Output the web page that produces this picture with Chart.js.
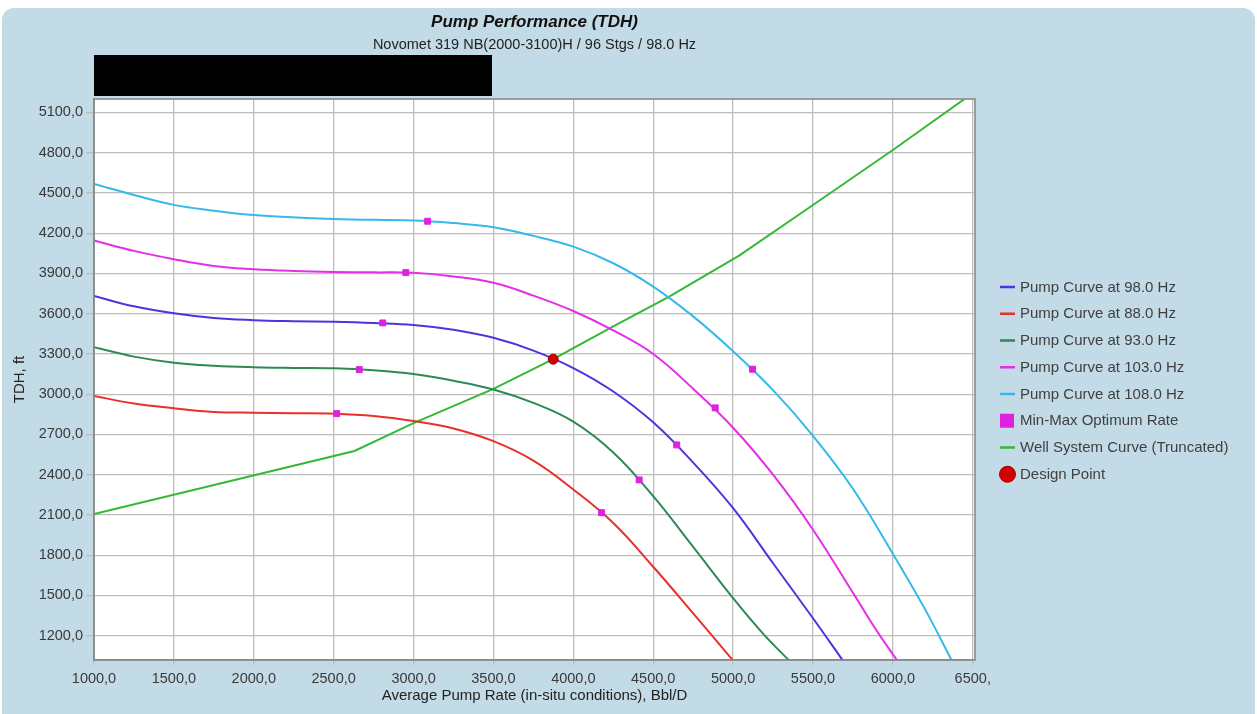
<!DOCTYPE html>
<html>
<head>
<meta charset="utf-8">
<script src="https://cdn.jsdelivr.net/npm/chart.js@4.4.1/dist/chart.umd.min.js"></script>
<style>
  html, body { margin: 0; padding: 0; background: #ffffff; }
  #wrap { width: 1257px; height: 714px; position: relative; }
</style>
</head>
<body>
<div id="wrap"><canvas id="chart"></canvas></div>
<script>
const FONT = '"Liberation Sans", Arial, Helvetica, sans-serif';

// Pump curves: rate (Bbl/D) and head (ft) at each frequency
const rate98 = [1000, 1250, 1500, 1750, 2000, 2250, 2500, 2750, 3000, 3250, 3500, 3750, 4000, 4250, 4500, 4750, 5000, 5250, 5500, 5690];
const tdh98  = [3732, 3655, 3603, 3568, 3552, 3544, 3539, 3530, 3516, 3480, 3420, 3325, 3195, 3020, 2790, 2490, 2150, 1740, 1330, 1010];

const rate88 = [1000, 1250, 1500, 1750, 2000, 2250, 2500, 2750, 3000, 3250, 3500, 3750, 4000, 4250, 4500, 4750, 5000];
const tdh88  = [2987, 2930, 2895, 2868, 2862, 2858, 2855, 2838, 2800, 2745, 2650, 2505, 2290, 2040, 1714, 1367, 1015];

const rate93 = [1000, 1250, 1500, 1750, 2000, 2250, 2500, 2750, 3000, 3250, 3500, 3750, 4000, 4250, 4500, 4750, 5000, 5190, 5355];
const tdh93  = [3350, 3280, 3235, 3212, 3201, 3196, 3193, 3178, 3150, 3100, 3035, 2935, 2795, 2565, 2240, 1862, 1480, 1212, 1010];

const rate103 = [1000, 1250, 1500, 1750, 2000, 2250, 2500, 2750, 3000, 3250, 3500, 3750, 4000, 4250, 4500, 4750, 5000, 5250, 5500, 5750, 5900, 6030];
const tdh103  = [4145, 4068, 4006, 3955, 3931, 3918, 3911, 3908, 3905, 3878, 3830, 3735, 3620, 3475, 3300, 3040, 2750, 2400, 1990, 1520, 1235, 1010];

const rate108 = [1000, 1250, 1500, 1750, 2000, 2500, 3000, 3250, 3500, 3750, 4000, 4250, 4500, 4750, 5000, 5250, 5500, 5750, 6000, 6200, 6375];
const tdh108  = [4567, 4485, 4411, 4368, 4336, 4306, 4294, 4275, 4245, 4180, 4100, 3976, 3802, 3580, 3320, 3030, 2690, 2295, 1810, 1400, 1000];

// Well system curve (truncated at the top of the plot)
const rateWell = [1000, 2630, 3000, 3500, 3874, 4250, 4600, 5040, 5500, 6000, 6460];
const tdhWell  = [2107, 2577, 2785, 3040, 3261, 3505, 3727, 4035, 4410, 4820, 5210];

// Min-max optimum rate markers on each pump curve
const rateOpt = [3088, 5122, 2952, 4888, 2807, 4647, 2660, 4412, 2519, 4177];
const tdhOpt  = [4289, 3186, 3906, 2898, 3531, 2622, 3183, 2361, 2855, 2117];

// Design point
const rateDesign = [3874];
const tdhDesign  = [3261];

// Axis ticks
const xTickValues = [1000, 1500, 2000, 2500, 3000, 3500, 4000, 4500, 5000, 5500, 6000, 6500];
const xTickLabels = ['1000,0', '1500,0', '2000,0', '2500,0', '3000,0', '3500,0', '4000,0', '4500,0', '5000,0', '5500,0', '6000,0', '6500,'];
const yTickValues = [1200, 1500, 1800, 2100, 2400, 2700, 3000, 3300, 3600, 3900, 4200, 4500, 4800, 5100];
const yTickLabels = ['1200,0', '1500,0', '1800,0', '2100,0', '2400,0', '2700,0', '3000,0', '3300,0', '3600,0', '3900,0', '4200,0', '4500,0', '4800,0', '5100,0'];

const pts = (xs, ys) => xs.map((x, i) => ({ x: x, y: ys[i] }));

const COLORS = {
  c98: '#5232dc',
  c88: '#e8312a',
  c93: '#2e8a55',
  c103: '#e52fe5',
  c108: '#35b9ea',
  opt: '#e020e0',
  well: '#35b835',
  design: '#d40000'
};

function curve(label, xs, ys, color) {
  return {
    label: label,
    data: pts(xs, ys),
    showLine: true,
    borderColor: color,
    backgroundColor: color,
    borderWidth: 2,
    pointRadius: 0,
    tension: 0.4,
    order: 2,
    legendKind: 'line'
  };
}

const datasets = [
  curve('Pump Curve at 98.0 Hz', rate98, tdh98, COLORS.c98),
  curve('Pump Curve at 88.0 Hz', rate88, tdh88, COLORS.c88),
  curve('Pump Curve at 93.0 Hz', rate93, tdh93, COLORS.c93),
  curve('Pump Curve at 103.0 Hz', rate103, tdh103, COLORS.c103),
  curve('Pump Curve at 108.0 Hz', rate108, tdh108, COLORS.c108),
  {
    label: 'Min-Max Optimum Rate',
    data: pts(rateOpt, tdhOpt),
    showLine: false,
    pointStyle: 'rect',
    pointRadius: 4.2,
    borderWidth: 1,
    borderColor: COLORS.opt,
    backgroundColor: COLORS.opt,
    order: 1,
    legendKind: 'rect'
  },
  Object.assign(curve('Well System Curve (Truncated)', rateWell, tdhWell, COLORS.well), { tension: 0 }),
  {
    label: 'Design Point',
    data: pts(rateDesign, tdhDesign),
    showLine: false,
    pointStyle: 'circle',
    pointRadius: 5,
    borderWidth: 1,
    borderColor: '#990000',
    backgroundColor: COLORS.design,
    order: 0,
    legendKind: 'circle'
  }
];

// Panel background, plot background and the black banner under the titles
const backdrop = {
  id: 'backdrop',
  beforeDraw(chart) {
    const ctx = chart.ctx;
    const a = chart.chartArea;
    ctx.save();
    ctx.fillStyle = '#ffffff';
    ctx.fillRect(0, 0, chart.width, chart.height);
    ctx.fillStyle = '#c3dbe6';
    ctx.beginPath();
    ctx.roundRect(2, 8, chart.width - 4, chart.height + 20, 12);
    ctx.fill();
    ctx.fillStyle = '#ffffff';
    ctx.fillRect(a.left, a.top, a.right - a.left, a.bottom - a.top);
    ctx.fillStyle = '#000000';
    ctx.fillRect(a.left, 55, 398, 41);
    ctx.restore();
  },
  afterDraw(chart) {
    const ctx = chart.ctx;
    const a = chart.chartArea;
    ctx.save();
    ctx.strokeStyle = '#8a8a8a';
    ctx.lineWidth = 1.6;
    ctx.strokeRect(a.left, a.top, a.right - a.left, a.bottom - a.top);
    ctx.restore();
  }
};

// Legend column at the right of the plot
const sideLegend = {
  id: 'sideLegend',
  afterDraw(chart) {
    const ctx = chart.ctx;
    const x0 = 1000, y0 = 287, step = 26.75;
    ctx.save();
    ctx.font = '15px ' + FONT;
    ctx.textBaseline = 'middle';
    ctx.textAlign = 'left';
    chart.data.datasets.forEach((ds, i) => {
      const y = y0 + i * step;
      if (ds.legendKind === 'line') {
        ctx.strokeStyle = ds.borderColor;
        ctx.lineWidth = 2.5;
        ctx.beginPath();
        ctx.moveTo(x0, y);
        ctx.lineTo(x0 + 15, y);
        ctx.stroke();
      } else if (ds.legendKind === 'rect') {
        ctx.fillStyle = ds.backgroundColor;
        ctx.fillRect(x0, y - 7, 14, 14);
      } else {
        ctx.fillStyle = ds.backgroundColor;
        ctx.strokeStyle = '#a00000';
        ctx.lineWidth = 1;
        ctx.beginPath();
        ctx.arc(x0 + 7.5, y, 8, 0, Math.PI * 2);
        ctx.fill();
        ctx.stroke();
      }
      ctx.fillStyle = '#404040';
      ctx.fillText(ds.label, x0 + 20, y + 0.5);
    });
    ctx.restore();
  }
};

const gridColor = '#bdbdbd';
const tickColor = '#3a3a3a';

new Chart(document.getElementById('chart'), {
  type: 'scatter',
  data: { datasets: datasets },
  options: {
    responsive: true,
    maintainAspectRatio: false,
    animation: false,
    events: [],
    layout: { padding: { left: 0, right: 282, top: 0, bottom: 0 } },
    plugins: {
      legend: { display: false },
      tooltip: { enabled: false },
      title: {
        display: true,
        text: 'Pump Performance (TDH)',
        fullSize: false,
        color: '#111111',
        font: { family: FONT, size: 17, weight: 'bold', style: 'italic' },
        padding: { top: 12.5, bottom: 3.5 }
      },
      subtitle: {
        display: true,
        text: 'Novomet 319 NB(2000-3100)H / 96 Stgs / 98.0 Hz',
        fullSize: false,
        color: '#222222',
        font: { family: FONT, size: 14.5 },
        padding: { top: 0, bottom: 45.2 }
      }
    },
    scales: {
      x: {
        type: 'linear',
        min: 1000,
        max: 6514,
        afterBuildTicks(scale) { scale.ticks = xTickValues.map(v => ({ value: v })); },
        afterFit(scale) { scale.height = 54; },
        ticks: {
          autoSkip: false,
          maxRotation: 0,
          minRotation: 0,
          padding: 5,
          color: tickColor,
          font: { family: FONT, size: 14.5 },
          callback: (v, i) => xTickLabels[i]
        },
        grid: { color: gridColor, lineWidth: 1.3, tickLength: 5, tickColor: gridColor },
        border: { display: true, color: '#8a8a8a', width: 1.6 },
        title: {
          display: true,
          text: 'Average Pump Rate (in-situ conditions), Bbl/D',
          color: '#222222',
          font: { family: FONT, size: 15 },
          padding: { top: 0, bottom: 9 }
        }
      },
      y: {
        type: 'linear',
        min: 1019,
        max: 5200,
        afterBuildTicks(scale) { scale.ticks = yTickValues.map(v => ({ value: v })); },
        afterFit(scale) { scale.width = 94; },
        ticks: {
          autoSkip: false,
          padding: 3,
          color: tickColor,
          font: { family: FONT, size: 14.5 },
          callback: (v, i) => yTickLabels[i]
        },
        grid: { color: gridColor, lineWidth: 1.3, tickLength: 8, tickColor: gridColor },
        border: { display: true, color: '#8a8a8a', width: 1.6 },
        title: {
          display: true,
          text: 'TDH, ft',
          color: '#222222',
          font: { family: FONT, size: 15 },
          padding: { top: 11, bottom: 0 }
        }
      }
    }
  },
  plugins: [backdrop, sideLegend]
});
</script>
</body>
</html>
